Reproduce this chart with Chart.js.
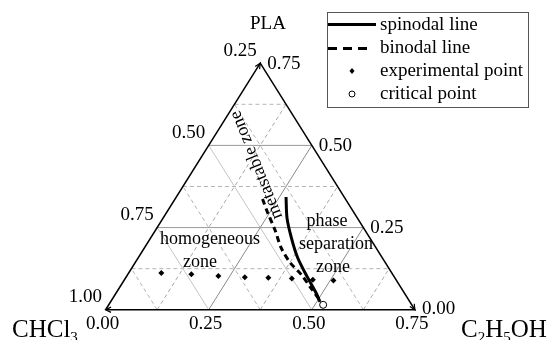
<!DOCTYPE html>
<html>
<head>
<meta charset="utf-8">
<script src="https://cdn.jsdelivr.net/npm/chart.js@4.4.0/dist/chart.umd.min.js"></script>
<style>
html, body { margin: 0; padding: 0; background: #fff; }
</style>
</head>
<body>
<canvas id="chart" width="550" height="340"></canvas>
<script>
// compositions are [PLA, C2H5OH] mass fractions, CHCl3 = 1 - PLA - C2H5OH
const tickValues = [0, 0.25, 0.5, 0.75];
const minorValues = [0.125, 0.375, 0.625];
const bottomTickLabels = ["0.00", "0.25", "0.50", "0.75"]; // C2H5OH
const leftTickLabels = ["1.00", "0.75", "0.50", "0.25"];   // CHCl3
const rightTickLabels = ["0.00", "0.25", "0.50", "0.75"];  // PLA

const expPLA = [0.112, 0.108, 0.103, 0.099, 0.097, 0.095, 0.091, 0.089];
const expEtOH = [0.079, 0.154, 0.222, 0.288, 0.346, 0.404, 0.457, 0.508];

const spinPLA = [0.343, 0.278, 0.219, 0.159, 0.100, 0.051, 0.024];
const spinEtOH = [0.266, 0.301, 0.341, 0.386, 0.439, 0.485, 0.508];

const binPLA = [0.337, 0.292, 0.242, 0.189, 0.145, 0.106, 0.065, 0.015];
const binEtOH = [0.212, 0.248, 0.290, 0.331, 0.374, 0.422, 0.466, 0.520];

const critPLA = [0.015];
const critEtOH = [0.520];

const SIDE = 0.75;
const FONT = "'Liberation Serif', 'Times New Roman', serif";

// ternary -> cartesian (x along base, y = PLA height)
function tern(pla, etoh) {
  return { x: etoh + pla / 2, y: pla };
}

function series(plaArr, etohArr) {
  return plaArr.map((p, i) => tern(p, etohArr[i]));
}

function gridLine(a, b, color, dash) {
  return {
    data: [a, b],
    showLine: true,
    borderColor: color,
    borderWidth: 1,
    borderDash: dash,
    pointRadius: 0,
    order: 10,
  };
}

const datasets = [];
const levels = tickValues.slice(1, 3).map((v) => [v, false]).concat(minorValues.map((v) => [v, true]));
levels.forEach(([v, minor]) => {
  const dash = minor ? [4, 3] : [];
  // constant PLA (horizontal)
  datasets.push(gridLine(tern(v, 0), tern(v, SIDE - v), minor ? "#b4b4b4" : "#9a9a9a", dash));
  // constant C2H5OH
  datasets.push(gridLine(tern(0, v), tern(SIDE - v, v), minor ? "#a8a8a8" : "#8a8a8a", dash));
  // constant CHCl3
  datasets.push(gridLine(tern(0, v), tern(v, 0), minor ? "#b4b4b4" : "#c4c4c4", dash));
});

// triangle frame
datasets.push({
  data: [tern(0, 0), tern(0, SIDE), tern(SIDE, 0), tern(0, 0)],
  showLine: true,
  borderColor: "#000",
  borderWidth: 1.5,
  pointRadius: 0,
  order: 5,
});

datasets.push({
  label: "binodal line",
  data: series(binPLA, binEtOH),
  showLine: true,
  borderColor: "#000",
  borderWidth: 3,
  borderDash: [6, 4],
  tension: 0.3,
  pointRadius: 0,
  order: 3,
});

datasets.push({
  label: "spinodal line",
  data: series(spinPLA, spinEtOH),
  showLine: true,
  borderColor: "#000",
  borderWidth: 3,
  tension: 0.3,
  pointRadius: 0,
  order: 2,
});

datasets.push({
  label: "experimental point",
  data: series(expPLA, expEtOH),
  pointStyle: "rectRot",
  pointRadius: 3,
  backgroundColor: "#000",
  borderWidth: 0,
  order: 1,
});

datasets.push({
  label: "critical point",
  data: series(critPLA, critEtOH),
  pointStyle: "circle",
  pointRadius: 3.5,
  backgroundColor: "#fff",
  borderColor: "#000",
  borderWidth: 1,
  order: 0,
});

function arrowHead(ctx, x, y, ang) {
  const len = 6, spread = 0.45;
  ctx.beginPath();
  ctx.moveTo(x - len * Math.cos(ang - spread), y - len * Math.sin(ang - spread));
  ctx.lineTo(x, y);
  ctx.lineTo(x - len * Math.cos(ang + spread), y - len * Math.sin(ang + spread));
  ctx.stroke();
}

function subText(ctx, parts, x, y) {
  // parts: [text, isSub]
  parts.forEach(([t, sub]) => {
    ctx.font = (sub ? "15px " : "25px ") + FONT;
    ctx.fillText(t, x, sub ? y + 5 : y);
    x += ctx.measureText(t).width;
  });
}

const labelsPlugin = {
  id: "ternaryLabels",
  afterDatasetsDraw(chart) {
    const ctx = chart.ctx;
    const xs = chart.scales.x;
    const ys = chart.scales.y;
    const pix = (pla, etoh) => {
      const p = tern(pla, etoh);
      return [xs.getPixelForValue(p.x), ys.getPixelForValue(p.y)];
    };
    ctx.save();
    ctx.fillStyle = "#000";
    ctx.strokeStyle = "#000";
    ctx.lineWidth = 1.2;

    // axis arrows
    const bl = pix(0, 0), br = pix(0, SIDE), top = pix(SIDE, 0);
    arrowHead(ctx, bl[0], bl[1], Math.PI);
    arrowHead(ctx, br[0], br[1], Math.atan2(br[1] - top[1], br[0] - top[0]));
    arrowHead(ctx, top[0], top[1], Math.atan2(top[1] - bl[1], top[0] - bl[0]));

    // tick labels
    ctx.font = "19px " + FONT;
    ctx.textBaseline = "alphabetic";
    tickValues.forEach((v, i) => {
      let p = pix(0, v);
      ctx.textAlign = "center";
      ctx.fillText(bottomTickLabels[i], p[0] - 3, p[1] + 19);
      p = pix(v, 0);
      ctx.textAlign = "right";
      ctx.fillText(leftTickLabels[i], p[0] - 3.5, p[1] - 7.5);
      p = pix(v, SIDE - v);
      ctx.textAlign = "left";
      ctx.fillText(rightTickLabels[i], p[0] + 7, p[1] + (i === 0 ? 4 : 5.5));
    });

    // component names
    ctx.textAlign = "left";
    ctx.font = "19px " + FONT;
    ctx.fillText("PLA", 250, 28.5);
    subText(ctx, [["CHCl", false], ["3", true]], 12, 337);
    subText(ctx, [["C", false], ["2", true], ["H", false], ["5", true], ["OH", false]], 461, 337);

    // zone labels
    ctx.font = "18px " + FONT;
    ctx.textAlign = "center";
    ctx.fillText("homogeneous", 210, 244);
    ctx.fillText("zone", 200, 267);
    ctx.fillText("phase", 327, 226);
    ctx.fillText("separation", 336, 249);
    ctx.fillText("zone", 333, 272);

    ctx.save();
    ctx.translate(256.5, 165);
    ctx.rotate(-112 * Math.PI / 180);
    ctx.textBaseline = "middle";
    ctx.fillText("metastable zone", 0, 0);
    ctx.restore();

    // legend
    ctx.lineWidth = 1;
    ctx.strokeStyle = "#555";
    ctx.strokeRect(327.5, 12.5, 201, 95);
    ctx.strokeStyle = "#000";
    ctx.lineWidth = 3;
    ctx.beginPath();
    ctx.moveTo(328, 24.5);
    ctx.lineTo(376, 24.5);
    ctx.stroke();
    ctx.setLineDash([9, 6]);
    ctx.beginPath();
    ctx.moveTo(328, 48.5);
    ctx.lineTo(368, 48.5);
    ctx.stroke();
    ctx.setLineDash([]);
    ctx.beginPath();
    ctx.moveTo(352, 68);
    ctx.lineTo(354.5, 71);
    ctx.lineTo(352, 74);
    ctx.lineTo(349.5, 71);
    ctx.closePath();
    ctx.fill();
    ctx.lineWidth = 1;
    ctx.beginPath();
    ctx.arc(352, 94, 3, 0, Math.PI * 2);
    ctx.stroke();

    ctx.font = "19px " + FONT;
    ctx.textAlign = "left";
    ctx.fillText("spinodal line", 380, 30);
    ctx.fillText("binodal line", 380, 53);
    ctx.fillText("experimental point", 380, 76);
    ctx.fillText("critical point", 380, 99);
    ctx.restore();
  },
};

new Chart(document.getElementById("chart"), {
  type: "scatter",
  data: { datasets: datasets },
  options: {
    responsive: false,
    animation: false,
    events: [],
    layout: { padding: 0 },
    plugins: { legend: { display: false }, tooltip: { enabled: false } },
    scales: {
      x: { type: "linear", display: false, min: -0.244, max: 1.0655 },
      y: { type: "linear", display: false, min: -0.0768, max: 0.9271 },
    },
  },
  plugins: [labelsPlugin],
});
</script>
</body>
</html>
